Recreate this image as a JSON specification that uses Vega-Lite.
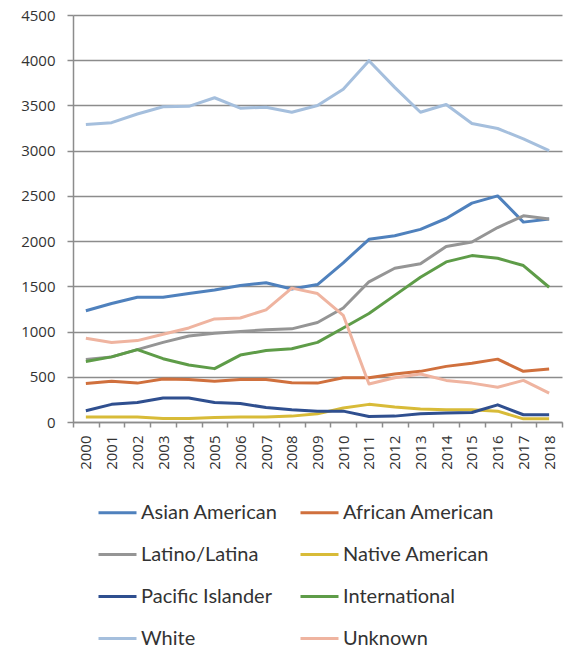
{
  "$schema": "https://vega.github.io/schema/vega-lite/v6.json",
  "width": 489,
  "height": 407,
  "autosize": "none",
  "padding": {"left": 73, "top": 15, "right": 8, "bottom": 226},
  "background": "white",
  "config": {"view": {"stroke": null}, "font": "Open Sans"},
  "data": {"values": [
    {"year":"2000","group":"Asian American","value":1230},{"year":"2001","group":"Asian American","value":1310},{"year":"2002","group":"Asian American","value":1380},{"year":"2003","group":"Asian American","value":1380},{"year":"2004","group":"Asian American","value":1420},{"year":"2005","group":"Asian American","value":1460},{"year":"2006","group":"Asian American","value":1510},{"year":"2007","group":"Asian American","value":1540},{"year":"2008","group":"Asian American","value":1470},{"year":"2009","group":"Asian American","value":1520},{"year":"2010","group":"Asian American","value":1760},{"year":"2011","group":"Asian American","value":2020},{"year":"2012","group":"Asian American","value":2060},{"year":"2013","group":"Asian American","value":2130},{"year":"2014","group":"Asian American","value":2250},{"year":"2015","group":"Asian American","value":2420},{"year":"2016","group":"Asian American","value":2500},{"year":"2017","group":"Asian American","value":2210},{"year":"2018","group":"Asian American","value":2245},
    {"year":"2000","group":"African American","value":425},{"year":"2001","group":"African American","value":450},{"year":"2002","group":"African American","value":430},{"year":"2003","group":"African American","value":475},{"year":"2004","group":"African American","value":470},{"year":"2005","group":"African American","value":450},{"year":"2006","group":"African American","value":470},{"year":"2007","group":"African American","value":470},{"year":"2008","group":"African American","value":435},{"year":"2009","group":"African American","value":430},{"year":"2010","group":"African American","value":490},{"year":"2011","group":"African American","value":490},{"year":"2012","group":"African American","value":530},{"year":"2013","group":"African American","value":560},{"year":"2014","group":"African American","value":615},{"year":"2015","group":"African American","value":650},{"year":"2016","group":"African American","value":695},{"year":"2017","group":"African American","value":560},{"year":"2018","group":"African American","value":585},
    {"year":"2000","group":"Latino/Latina","value":690},{"year":"2001","group":"Latino/Latina","value":720},{"year":"2002","group":"Latino/Latina","value":800},{"year":"2003","group":"Latino/Latina","value":880},{"year":"2004","group":"Latino/Latina","value":950},{"year":"2005","group":"Latino/Latina","value":980},{"year":"2006","group":"Latino/Latina","value":1000},{"year":"2007","group":"Latino/Latina","value":1020},{"year":"2008","group":"Latino/Latina","value":1030},{"year":"2009","group":"Latino/Latina","value":1100},{"year":"2010","group":"Latino/Latina","value":1260},{"year":"2011","group":"Latino/Latina","value":1550},{"year":"2012","group":"Latino/Latina","value":1700},{"year":"2013","group":"Latino/Latina","value":1750},{"year":"2014","group":"Latino/Latina","value":1940},{"year":"2015","group":"Latino/Latina","value":1990},{"year":"2016","group":"Latino/Latina","value":2150},{"year":"2017","group":"Latino/Latina","value":2280},{"year":"2018","group":"Latino/Latina","value":2245},
    {"year":"2000","group":"Native American","value":55},{"year":"2001","group":"Native American","value":55},{"year":"2002","group":"Native American","value":55},{"year":"2003","group":"Native American","value":40},{"year":"2004","group":"Native American","value":40},{"year":"2005","group":"Native American","value":50},{"year":"2006","group":"Native American","value":55},{"year":"2007","group":"Native American","value":55},{"year":"2008","group":"Native American","value":65},{"year":"2009","group":"Native American","value":90},{"year":"2010","group":"Native American","value":155},{"year":"2011","group":"Native American","value":195},{"year":"2012","group":"Native American","value":165},{"year":"2013","group":"Native American","value":145},{"year":"2014","group":"Native American","value":135},{"year":"2015","group":"Native American","value":135},{"year":"2016","group":"Native American","value":120},{"year":"2017","group":"Native American","value":35},{"year":"2018","group":"Native American","value":35},
    {"year":"2000","group":"Pacific Islander","value":125},{"year":"2001","group":"Pacific Islander","value":195},{"year":"2002","group":"Pacific Islander","value":215},{"year":"2003","group":"Pacific Islander","value":265},{"year":"2004","group":"Pacific Islander","value":265},{"year":"2005","group":"Pacific Islander","value":215},{"year":"2006","group":"Pacific Islander","value":205},{"year":"2007","group":"Pacific Islander","value":160},{"year":"2008","group":"Pacific Islander","value":135},{"year":"2009","group":"Pacific Islander","value":120},{"year":"2010","group":"Pacific Islander","value":120},{"year":"2011","group":"Pacific Islander","value":60},{"year":"2012","group":"Pacific Islander","value":65},{"year":"2013","group":"Pacific Islander","value":90},{"year":"2014","group":"Pacific Islander","value":100},{"year":"2015","group":"Pacific Islander","value":105},{"year":"2016","group":"Pacific Islander","value":190},{"year":"2017","group":"Pacific Islander","value":80},{"year":"2018","group":"Pacific Islander","value":80},
    {"year":"2000","group":"International","value":670},{"year":"2001","group":"International","value":720},{"year":"2002","group":"International","value":800},{"year":"2003","group":"International","value":700},{"year":"2004","group":"International","value":630},{"year":"2005","group":"International","value":590},{"year":"2006","group":"International","value":740},{"year":"2007","group":"International","value":790},{"year":"2008","group":"International","value":810},{"year":"2009","group":"International","value":880},{"year":"2010","group":"International","value":1040},{"year":"2011","group":"International","value":1200},{"year":"2012","group":"International","value":1400},{"year":"2013","group":"International","value":1600},{"year":"2014","group":"International","value":1770},{"year":"2015","group":"International","value":1840},{"year":"2016","group":"International","value":1810},{"year":"2017","group":"International","value":1730},{"year":"2018","group":"International","value":1490},
    {"year":"2000","group":"White","value":3290},{"year":"2001","group":"White","value":3310},{"year":"2002","group":"White","value":3405},{"year":"2003","group":"White","value":3485},{"year":"2004","group":"White","value":3490},{"year":"2005","group":"White","value":3585},{"year":"2006","group":"White","value":3470},{"year":"2007","group":"White","value":3480},{"year":"2008","group":"White","value":3425},{"year":"2009","group":"White","value":3500},{"year":"2010","group":"White","value":3680},{"year":"2011","group":"White","value":3995},{"year":"2012","group":"White","value":3700},{"year":"2013","group":"White","value":3425},{"year":"2014","group":"White","value":3510},{"year":"2015","group":"White","value":3300},{"year":"2016","group":"White","value":3245},{"year":"2017","group":"White","value":3130},{"year":"2018","group":"White","value":3000},
    {"year":"2000","group":"Unknown","value":925},{"year":"2001","group":"Unknown","value":880},{"year":"2002","group":"Unknown","value":900},{"year":"2003","group":"Unknown","value":970},{"year":"2004","group":"Unknown","value":1040},{"year":"2005","group":"Unknown","value":1140},{"year":"2006","group":"Unknown","value":1150},{"year":"2007","group":"Unknown","value":1240},{"year":"2008","group":"Unknown","value":1480},{"year":"2009","group":"Unknown","value":1420},{"year":"2010","group":"Unknown","value":1180},{"year":"2011","group":"Unknown","value":420},{"year":"2012","group":"Unknown","value":490},{"year":"2013","group":"Unknown","value":530},{"year":"2014","group":"Unknown","value":460},{"year":"2015","group":"Unknown","value":430},{"year":"2016","group":"Unknown","value":385},{"year":"2017","group":"Unknown","value":460},{"year":"2018","group":"Unknown","value":320}
  ]},
  "mark": {"type": "line", "strokeWidth": 3, "strokeJoin": "round"},
  "encoding": {
    "x": {
      "field": "year", "type": "ordinal",
      "scale": {"type": "band", "paddingInner": 0, "paddingOuter": 0},
      "bandPosition": 0.5,
      "axis": {"title": null, "labelAngle": -90, "labelFontSize": 15, "labelColor": "#333333", "tickBand": "extent", "domainColor": "#8c8c8c", "domainWidth": 1.5, "tickColor": "#8c8c8c", "tickWidth": 1.5, "tickSize": 5, "grid": false, "labelPadding": 8}
    },
    "y": {
      "field": "value", "type": "quantitative",
      "scale": {"domain": [0, 4500], "nice": false},
      "axis": {"title": null, "format": "d", "values": [0,500,1000,1500,2000,2500,3000,3500,4000,4500], "gridColor": "#8c8c8c", "gridWidth": 1.5, "domainColor": "#8c8c8c", "domainWidth": 1.5, "tickColor": "#8c8c8c", "tickWidth": 1.5, "tickSize": 6, "labelFontSize": 15, "labelPadding": 12, "labelColor": "#333333"}
    },
    "color": {
      "field": "group", "type": "nominal",
      "scale": {
        "domain": ["Asian American","Latino/Latina","Pacific Islander","White","African American","Native American","International","Unknown"],
        "range": ["#4f81bd","#959595","#2f4f8f","#a5bfdd","#d0703d","#d8bb38","#5e9c48","#efb4a0"]
      },
      "legend": {"orient": "none", "legendX": 24, "legendY": 477, "columns": 2, "title": null, "symbolType": "stroke", "symbolStrokeWidth": 3, "symbolSize": 1444, "labelFont": "Lato", "labelFontSize": 20, "labelColor": "#333333", "labelLimit": 400, "rowPadding": 11, "columnPadding": 16, "labelOffset": 3, "padding": 0}
    }
  }
}
